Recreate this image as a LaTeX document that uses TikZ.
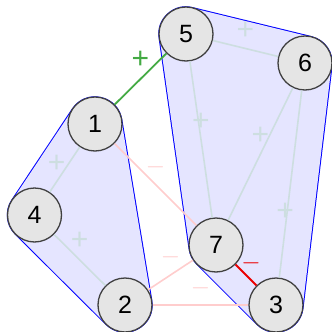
\documentclass[tikz,border=0pt]{standalone}
\usepackage{fontspec}
\setmainfont{Liberation Sans}
\usetikzlibrary{positioning}
\definecolor{intracol}{RGB}{205,222,224}
\definecolor{intercol}{RGB}{255,205,205}
\definecolor{poscol}{RGB}{68,170,68}
\definecolor{negcol}{RGB}{235,0,0}

\begin{document}
\begin{tikzpicture}[x=1pt, y=-1pt,
	vertex/.style={circle, draw=black!75, fill=black!10, line width=1.3pt,
		minimum size=54pt, inner sep=0pt, font=\fontsize{25}{25}\selectfont},
	hullline/.style={blue, line width=55.4pt, line join=round},
	hullfill/.style={blue!10, fill=blue!10, line width=53.4pt, line join=round},
	intra/.style={intracol, line width=1.6pt},
	inter/.style={intercol, line width=1.6pt},
	lbl/.style={inner sep=0pt, font=\fontsize{30}{30}\selectfont}
	]
\useasboundingbox (0,0) rectangle (332,332);

\coordinate (c1) at (95,124);
\coordinate (c2) at (125,305);
\coordinate (c3) at (276,305);
\coordinate (c4) at (34.5,215);
\coordinate (c5) at (186,34);
\coordinate (c6) at (305,63);
\coordinate (c7) at (216,245);

% clusters
\draw[hullline] (c1) -- (c4) -- (c2) -- cycle;
\draw[hullfill] (c1) -- (c4) -- (c2) -- cycle;
\draw[hullline] (c5) -- (c6) -- (c3) -- (c7) -- cycle;
\draw[hullfill] (c5) -- (c6) -- (c3) -- (c7) -- cycle;

\node[vertex] (n1) at (c1) {1};
\node[vertex] (n2) at (c2) {2};
\node[vertex] (n3) at (c3) {3};
\node[vertex] (n4) at (c4) {4};
\node[vertex] (n5) at (c5) {5};
\node[vertex] (n6) at (c6) {6};
\node[vertex] (n7) at (c7) {7};

\draw[intra] (n1) -- (n4) node[lbl, midway, xshift=-8pt, yshift=6pt, intracol] {+};
\draw[intra] (n4) -- (n2) node[lbl, midway, yshift=19pt, intracol] {+};
\draw[intra] (n5) -- (n6) node[lbl, midway, yshift=18pt, intracol] {+};
\draw[intra] (n5) -- (n7) node[lbl, midway, yshift=18pt, intracol] {+};
\draw[intra] (n6) -- (n7) node[lbl, midway, yshift=18pt, intracol] {+};
\draw[intra] (n6) -- (n3) node[lbl, pos=0.65, xshift=-2pt, intracol] {+};

\draw[inter] (n1) -- (n7) node[lbl, midway, yshift=17pt] {$-$};
\draw[inter] (n2) -- (n7) node[lbl, midway, yshift=18pt] {$-$};
\draw[inter] (n2) -- (n3) node[lbl, midway, yshift=17pt] {$-$};

\draw[poscol, line width=1.8pt] (n1) -- (n5) node[lbl, midway, yshift=19pt] {+};
\draw[negcol, line width=1.8pt] (n7) -- (n3) node[lbl, midway, xshift=5pt, yshift=12pt] {$-$};
\end{tikzpicture}
\end{document}
